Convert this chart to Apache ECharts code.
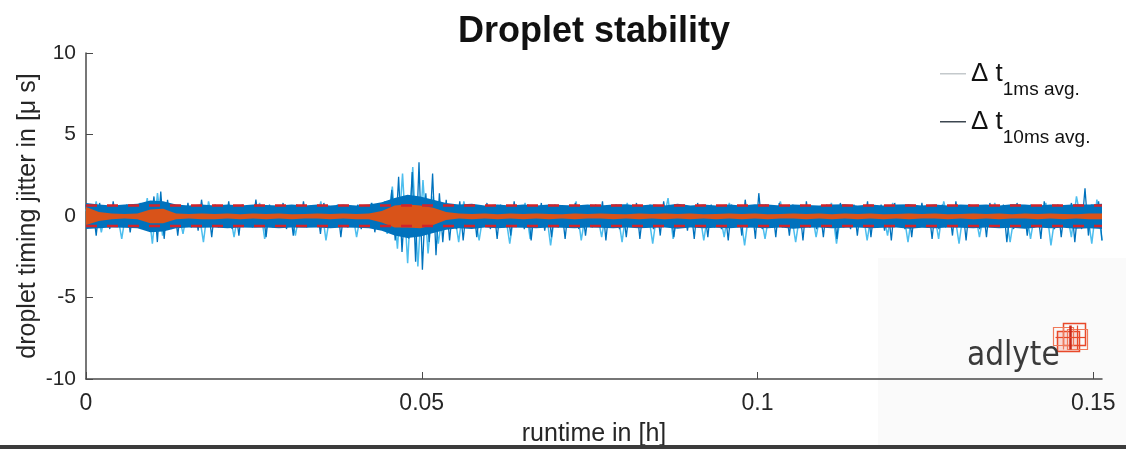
<!DOCTYPE html>
<html>
<head>
<meta charset="utf-8">
<title>Droplet stability</title>
<script src="https://cdn.jsdelivr.net/npm/echarts@6/dist/echarts.min.js"></script>
<style>
  html, body { margin: 0; padding: 0; background: #fff; }
  #chart { width: 1126px; height: 449px; }
</style>
</head>
<body>
<div id="chart"></div>
<script>
// axis ranges / ticks
var xTicks = [0, 0.05, 0.1, 0.15];
var tEnd = 0.1513;
var yTicks = [-10, -5, 0, 5, 10];

// 1ms average: peak / trough of each short window
var cyanHi = [
  0.4,0.9,0.5,0.4,0.6,0.5,1.1,1.4,0.5,0.4,
  0.6,0.5,0.9,0.4,0.5,0.6,0.4,0.8,0.5,0.4,
  0.6,0.5,0.4,0.9,0.5,0.4,0.6,0.5,0.8,0.4,
  1.8,2.6,3.0,2.2,1.2,0.6,0.5,0.9,0.4,0.5,
  0.6,0.4,0.5,0.8,0.4,0.6,0.5,0.4,0.9,0.5,
  0.4,0.6,0.5,0.8,0.4,0.5,0.6,1.1,0.5,0.4,
  0.6,0.5,0.4,0.8,0.5,0.6,0.4,0.5,0.9,0.4,
  0.5,0.6,0.4,0.8,0.5,0.4,0.6,0.5,0.4,0.8,
  0.5,0.6,0.4,0.5,0.9,0.4,0.6,0.5,0.4,0.8,
  0.5,0.4,0.6,0.5,0.8,0.4,0.5,1.2,0.6,1.0
];
var cyanLo = [
  -0.5,-1.0,-0.4,-1.4,-0.5,-0.6,-1.7,-1.2,-0.5,-1.1,
  -0.4,-1.6,-0.5,-0.6,-1.3,-0.4,-0.5,-1.4,-0.6,-0.4,
  -1.2,-0.5,-0.4,-1.5,-0.5,-0.6,-1.3,-0.4,-0.5,-1.1,
  -2.0,-2.9,-3.1,-2.3,-1.7,-0.7,-1.6,-0.5,-1.5,-0.6,
  -0.5,-1.7,-0.4,-1.4,-0.5,-1.8,-0.6,-0.5,-1.5,-0.4,
  -1.3,-0.5,-1.6,-0.6,-0.4,-1.7,-0.5,-1.4,-0.4,-0.5,
  -1.5,-0.6,-1.3,-0.5,-1.8,-0.4,-1.4,-0.5,-0.6,-1.6,
  -0.4,-1.3,-0.5,-1.7,-0.6,-0.4,-1.5,-0.5,-1.2,-0.5,
  -1.6,-0.4,-0.6,-1.4,-0.5,-1.7,-0.4,-1.3,-0.5,-0.6,
  -1.6,-0.4,-1.4,-0.5,-1.8,-0.6,-1.3,-0.5,-1.7,-1.5
];

// 10ms average: spikes
var blueHi = [
  0.7,0.6,0.8,0.5,0.9,0.6,0.7,0.5,0.8,0.6,
  1.2,1.5,1.0,0.7,0.6,0.8,0.6,1.0,0.5,0.7,
  0.6,0.9,0.5,0.7,0.6,1.0,0.5,0.7,0.6,0.8,
  0.5,0.7,0.9,0.6,0.5,0.8,0.6,0.7,0.5,0.6,
  0.7,0.5,0.8,0.6,0.9,1.6,2.4,1.2,2.7,3.3,
  1.4,2.6,1.4,1.0,0.7,0.9,0.6,0.7,0.5,0.8,
  0.6,0.7,0.5,0.9,0.6,0.7,0.5,0.8,0.6,0.7,
  0.5,0.6,0.8,0.6,0.5,0.7,0.9,0.6,0.7,0.5,
  0.6,0.8,0.5,0.7,0.6,0.9,0.6,0.5,0.7,0.6,
  0.8,0.5,0.7,0.6,0.5,0.7,0.6,1.0,0.6,1.4,
  0.7,0.6,0.8,0.5,0.7,0.6,0.9,0.6,0.5,0.7,
  0.6,0.8,0.5,0.7,0.6,0.9,0.5,0.7,0.6,0.8,
  0.5,0.7,0.6,0.8,0.5,0.6,0.7,0.5,0.9,0.6,
  0.7,0.5,0.6,0.8,0.6,0.7,0.5,0.8,0.6,0.7,
  0.5,0.9,0.6,0.7,0.5,0.8,0.6,1.7,0.7,0.9
];
var blueLo = [
  -0.7,-1.2,-0.6,-0.8,-0.5,-0.7,-1.0,-0.6,-0.8,-0.6,
  -1.6,-1.4,-0.8,-1.2,-0.6,-0.7,-0.9,-0.6,-1.3,-0.7,
  -0.6,-0.8,-1.2,-0.6,-0.7,-0.6,-1.3,-0.7,-0.6,-0.8,
  -1.2,-0.6,-0.7,-0.6,-1.1,-0.7,-0.6,-1.3,-0.7,-0.6,
  -0.8,-0.6,-1.0,-0.7,-0.8,-1.5,-2.2,-1.4,-2.8,-3.3,
  -1.6,-2.4,-1.6,-1.5,-0.8,-1.5,-0.7,-1.3,-0.6,-0.8,
  -1.4,-0.7,-1.2,-0.6,-0.8,-1.5,-0.6,-0.9,-1.3,-0.7,
  -1.4,-0.6,-0.8,-1.2,-0.7,-0.6,-1.5,-0.7,-0.8,-1.3,
  -0.6,-1.4,-0.7,-0.8,-1.2,-0.6,-1.3,-0.7,-0.9,-1.4,
  -0.6,-1.3,-0.7,-0.8,-1.5,-0.6,-1.2,-0.7,-1.4,-0.8,
  -0.6,-1.3,-0.7,-1.2,-0.6,-1.5,-0.7,-0.8,-1.3,-0.6,
  -1.4,-0.7,-0.8,-1.2,-0.6,-1.3,-0.7,-0.9,-1.5,-0.6,
  -0.8,-1.3,-0.7,-0.6,-1.4,-0.8,-0.7,-1.2,-0.6,-1.5,
  -0.7,-0.8,-1.3,-0.6,-0.7,-1.6,-0.8,-0.6,-1.2,-0.7,
  -1.4,-0.6,-0.8,-1.3,-0.7,-1.6,-0.8,-1.2,-0.7,-1.5
];

// 10ms average: dense core of the trace (upper / lower edge per window)
var coreHi = [
  0.8,0.7,0.65,0.7,0.75,0.95,0.9,0.7,0.65,0.7,
  0.65,0.7,0.65,0.7,0.68,0.65,0.7,0.65,0.7,0.65,
  0.7,0.65,0.7,0.85,1.1,1.3,1.2,1.0,0.8,0.7,
  0.75,0.65,0.7,0.65,0.7,0.65,0.7,0.68,0.65,0.7,
  0.65,0.7,0.72,0.65,0.7,0.65,0.75,0.65,0.7,0.65,
  0.7,0.65,0.72,0.7,0.65,0.7,0.68,0.65,0.7,0.72,
  0.65,0.7,0.65,0.7,0.72,0.65,0.7,0.65,0.7,0.68,
  0.7,0.65,0.72,0.7,0.65,0.7,0.68,0.72,0.7,0.75
];
var coreLo = [
  -0.8,-0.75,-0.7,-0.72,-0.75,-1.0,-0.95,-0.75,-0.7,-0.72,
  -0.7,-0.75,-0.7,-0.72,-0.7,-0.75,-0.7,-0.72,-0.7,-0.75,
  -0.7,-0.72,-0.75,-0.9,-1.2,-1.35,-1.25,-1.05,-0.85,-0.75,
  -0.8,-0.7,-0.75,-0.7,-0.72,-0.75,-0.7,-0.72,-0.75,-0.7,
  -0.72,-0.75,-0.7,-0.75,-0.72,-0.7,-0.78,-0.7,-0.75,-0.72,
  -0.75,-0.7,-0.72,-0.75,-0.7,-0.78,-0.72,-0.7,-0.75,-0.72,
  -0.7,-0.75,-0.72,-0.7,-0.78,-0.72,-0.75,-0.7,-0.72,-0.75,
  -0.7,-0.75,-0.72,-0.78,-0.7,-0.75,-0.72,-0.78,-0.75,-0.8
];

// slow trend (orange band): upper / lower edge per window
var orangeHi = [
  0.55,0.25,0.15,0.12,0.15,0.4,0.45,0.15,0.12,0.15,
  0.12,0.15,0.1,0.15,0.12,0.15,0.1,0.12,0.15,0.12,
  0.15,0.12,0.15,0.3,0.65,0.7,0.65,0.5,0.25,0.15,
  0.12,0.15,0.1,0.15,0.12,0.15,0.12,0.1,0.15,0.12,
  0.15,0.12,0.1,0.15,0.12,0.15,0.12,0.15,0.1,0.12,
  0.15,0.12,0.15,0.1,0.12,0.15,0.12,0.15,0.1,0.15,
  0.12,0.15,0.1,0.12,0.15,0.12,0.15,0.1,0.12,0.15,
  0.12,0.15,0.1,0.15,0.12,0.15,0.12,0.1,0.15,0.15
];
var orangeLo = [
  -0.55,-0.3,-0.2,-0.15,-0.2,-0.45,-0.45,-0.2,-0.15,-0.2,
  -0.2,-0.15,-0.2,-0.15,-0.2,-0.15,-0.2,-0.15,-0.15,-0.2,
  -0.15,-0.2,-0.2,-0.4,-0.7,-0.7,-0.75,-0.55,-0.25,-0.15,
  -0.2,-0.15,-0.2,-0.15,-0.2,-0.15,-0.2,-0.15,-0.2,-0.15,
  -0.15,-0.2,-0.15,-0.2,-0.15,-0.2,-0.15,-0.2,-0.15,-0.2,
  -0.15,-0.2,-0.15,-0.2,-0.15,-0.15,-0.2,-0.15,-0.2,-0.15,
  -0.2,-0.15,-0.2,-0.15,-0.2,-0.15,-0.15,-0.2,-0.15,-0.2,
  -0.15,-0.2,-0.15,-0.15,-0.2,-0.15,-0.2,-0.15,-0.2,-0.2
];

// tolerance band (red dashed)
var limitLevels = [0.65, -0.62];

var name1 = 'Δ t 1ms avg.';
var name10 = 'Δ t 10ms avg.';

// samples are evenly spaced over the run, alternating window max / min
function zigzag(hi, lo) {
  var n = hi.length * 2;
  var out = [];
  for (var i = 0; i < hi.length; i++) {
    out.push([tEnd * (2 * i) / (n - 1), hi[i]]);
    out.push([tEnd * (2 * i + 1) / (n - 1), lo[i]]);
  }
  return out;
}

function spread(vals) {
  return vals.map(function (v, i) { return [tEnd * i / (vals.length - 1), v]; });
}

function flat(level) {
  return [[0, level], [tEnd, level]];
}

// filled band: edge above zero and edge below zero, each filled to the zero line
function band(id, hi, lo, color, z) {
  return [hi, lo].map(function (edge, k) {
    return {
      name: id + k, type: 'line', data: spread(edge), symbol: 'none',
      lineStyle: { width: 0 },
      areaStyle: { color: color, opacity: 1, origin: 0 },
      z: z
    };
  });
}

var font = '"Liberation Sans", Arial, sans-serif';
var gray = '#262626';
var axisGray = '#4a4a4a';
var blue = '#0072BD';
var cyan = '#4DBEEE';
var orange = '#D95319';

var chart = echarts.init(document.getElementById('chart'));

var series = [
  { name: name1, type: 'line', data: zigzag(cyanHi, cyanLo), symbol: 'none',
    lineStyle: { color: cyan, width: 1.5 }, itemStyle: { color: cyan }, z: 1 },
  { name: name10, type: 'line', data: zigzag(blueHi, blueLo), symbol: 'none',
    lineStyle: { color: blue, width: 1.3 }, itemStyle: { color: blue }, z: 3 }
];
series = series.concat(band('core', coreHi, coreLo, blue, 2));
series = series.concat(band('trend', orangeHi, orangeLo, orange, 4));
limitLevels.forEach(function (lv, i) {
  series.push({ name: 'limit' + i, type: 'line', data: flat(lv), symbol: 'none',
    lineStyle: { color: '#D2232A', width: 2.5, type: [11, 10] }, z: 5 });
});

chart.setOption({
  animation: false,
  backgroundColor: '#fff',
  title: {
    text: 'Droplet stability',
    left: 453,
    top: 9,
    textStyle: { fontFamily: font, fontSize: 36, fontWeight: 'bold', color: '#111' }
  },
  legend: {
    orient: 'vertical',
    left: 935,
    top: 56,
    // short line drawn at the top of the icon box, so it sits a little above the text centre
    icon: 'path://M0,0L26,0L26,1.5L0,1.5Z M0,14L0.01,14L0.01,14.01Z',
    itemWidth: 26,
    itemHeight: 14,
    itemGap: 10,
    data: [
      { name: name1, itemStyle: { color: '#c4c9cc' } },
      { name: name10, itemStyle: { color: '#3c4650' } }
    ],
    formatter: function (name) {
      return '{d|Δ t}{s|' + name.replace('Δ t ', '') + '}';
    },
    textStyle: {
      fontFamily: font,
      rich: {
        d: { fontFamily: font, fontSize: 26, color: '#111', lineHeight: 38, verticalAlign: 'top' },
        s: { fontFamily: font, fontSize: 19, color: '#111', lineHeight: 38, verticalAlign: 'bottom' }
      }
    }
  },
  grid: { left: 86, right: 24, top: 53, bottom: 70, outerBoundsMode: 'none', containLabel: false },
  xAxis: {
    type: 'value',
    min: xTicks[0],
    max: tEnd,
    interval: xTicks[1] - xTicks[0],
    name: 'runtime in [h]',
    nameLocation: 'middle',
    nameGap: 43,
    nameTextStyle: { fontFamily: font, fontSize: 25, color: gray },
    axisLine: { onZero: false, lineStyle: { color: axisGray, width: 1.5 } },
    axisTick: { inside: true, length: 7, lineStyle: { color: axisGray } },
    axisLabel: { fontFamily: font, fontSize: 23, color: gray, margin: 13, showMaxLabel: false },
    splitLine: { show: false }
  },
  yAxis: {
    type: 'value',
    min: yTicks[0],
    max: yTicks[yTicks.length - 1],
    interval: yTicks[1] - yTicks[0],
    name: 'droplet timing jitter in [μ s]',
    nameLocation: 'middle',
    nameMoveOverlap: false,
    nameGap: 45,
    nameTextStyle: { fontFamily: font, fontSize: 25, color: gray },
    axisLine: { show: true, onZero: false, lineStyle: { color: axisGray, width: 1.5 } },
    axisTick: { show: true, inside: true, length: 7, lineStyle: { color: axisGray } },
    axisLabel: { fontFamily: font, fontSize: 21, color: gray, margin: 10 },
    splitLine: { show: false }
  },
  series: series,
  graphic: [
    // faint box behind the logo
    { type: 'rect', shape: { x: 878, y: 258, width: 248, height: 187 },
      style: { fill: '#fafafa' }, z: -10, silent: true },
    { type: 'text', left: 967, top: 340,
      style: { text: 'adlyte', fontFamily: '"DejaVu Sans Condensed", "DejaVu Sans", sans-serif',
        fontSize: 33, fill: '#3a3a3a' }, z: 10 },
    { type: 'group', left: 1051, top: 321, z: 10, children: [
      { type: 'rect', shape: { x: 4, y: 10, width: 22, height: 20 }, style: { fill: 'rgba(232,73,42,0.18)', stroke: '#e8492a', lineWidth: 1.5 } },
      { type: 'rect', shape: { x: 10, y: 2, width: 22, height: 22 }, style: { fill: 'none', stroke: '#e8492a', lineWidth: 1.5 } },
      { type: 'rect', shape: { x: 0, y: 6, width: 20, height: 18 }, style: { fill: 'none', stroke: '#f07a5a', lineWidth: 1.2 } },
      { type: 'rect', shape: { x: 14, y: 8, width: 20, height: 20 }, style: { fill: 'none', stroke: '#f07a5a', lineWidth: 1.2 } },
      { type: 'line', shape: { x1: 17, y1: 4, x2: 17, y2: 28 }, style: { stroke: '#c9281a', lineWidth: 2.5 } },
      { type: 'line', shape: { x1: 2, y1: 16, x2: 32, y2: 16 }, style: { stroke: '#e8492a', lineWidth: 1.2 } },
      { type: 'line', shape: { x1: 24, y1: 4, x2: 24, y2: 28 }, style: { stroke: '#e8492a', lineWidth: 1.2 } },
      { type: 'line', shape: { x1: 10, y1: 6, x2: 10, y2: 28 }, style: { stroke: '#f07a5a', lineWidth: 1.2 } }
    ] },
    // dark strip along the bottom edge
    { type: 'rect', shape: { x: 0, y: 445, width: 1126, height: 4 },
      style: { fill: '#3b3b3b' }, z: 20, silent: true }
  ]
});
</script>
</body>
</html>
